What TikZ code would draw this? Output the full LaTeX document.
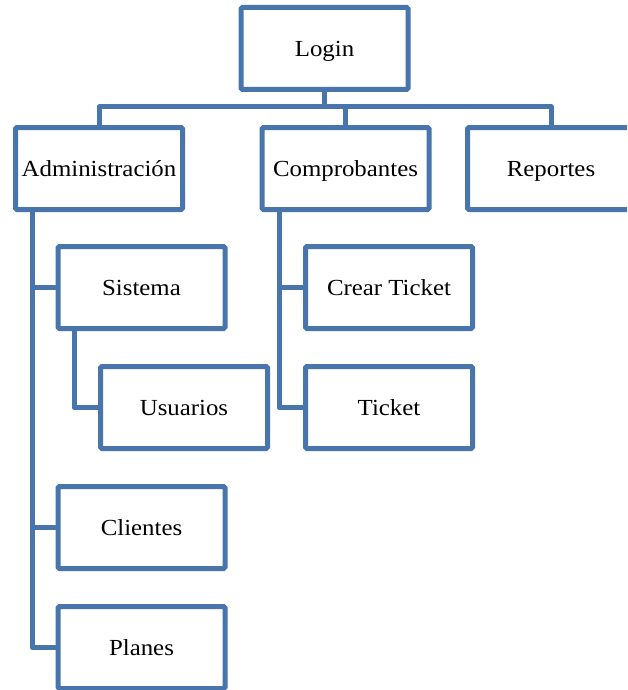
\documentclass[tikz,border=0pt]{standalone}
\usepackage{fontspec}
\setmainfont[FakeStretch=1.08]{Liberation Serif}
\begin{document}
\begin{tikzpicture}[x=1pt,y=-1pt,
  every node/.style={font=\fontsize{23}{27}\selectfont},
  menubox/.style={draw=boxblue, line width=5pt, rounded corners=1.5pt, fill=white,
    minimum width=167pt, minimum height=82pt, inner sep=0pt,
    text height=19pt, text depth=3pt},
  link/.style={draw=boxblue, line width=5pt, line join=round}]
\definecolor{boxblue}{RGB}{72,118,172}
\clip (0,0) rectangle (627,690);
\fill[white] (0,0) rectangle (627,690);

% branch points of the tree
\coordinate (hub) at (324.5,107);
\coordinate (aroot) at (32,208);
\coordinate (sroot) at (74,328);
\coordinate (croot) at (279,208);

% menu boxes
\node[menubox] (login) at (324.5,48.5) {Login};
\node[menubox] (admin) at (99,168.5) {Administración};
\node[menubox] (comp) at (345.5,168.5) {Comprobantes};
\node[menubox] (rep) at (551,168.5) {Reportes};
\node[menubox] (sis) at (141.5,287.5) {Sistema};
\node[menubox] (usu) at (184,407.5) {Usuarios};
\node[menubox] (cli) at (141.5,527.5) {Clientes};
\node[menubox] (pla) at (141.5,647.5) {Planes};
\node[menubox] (crt) at (389,287.5) {Crear Ticket};
\node[menubox] (tic) at (389,407.5) {Ticket};

% connectors
\draw[link] (login.south) -- (hub);
\draw[link] (admin.north) |- (hub) -| (rep.north);
\draw[link] (comp.north) -- (comp.north |- hub);
\draw[link] (aroot) |- (pla.west);
\draw[link] (aroot |- sis.west) -- (sis.west);
\draw[link] (aroot |- cli.west) -- (cli.west);
\draw[link] (sroot) |- (usu.west);
\draw[link] (croot) |- (tic.west);
\draw[link] (croot |- crt.west) -- (crt.west);
\end{tikzpicture}
\end{document}
